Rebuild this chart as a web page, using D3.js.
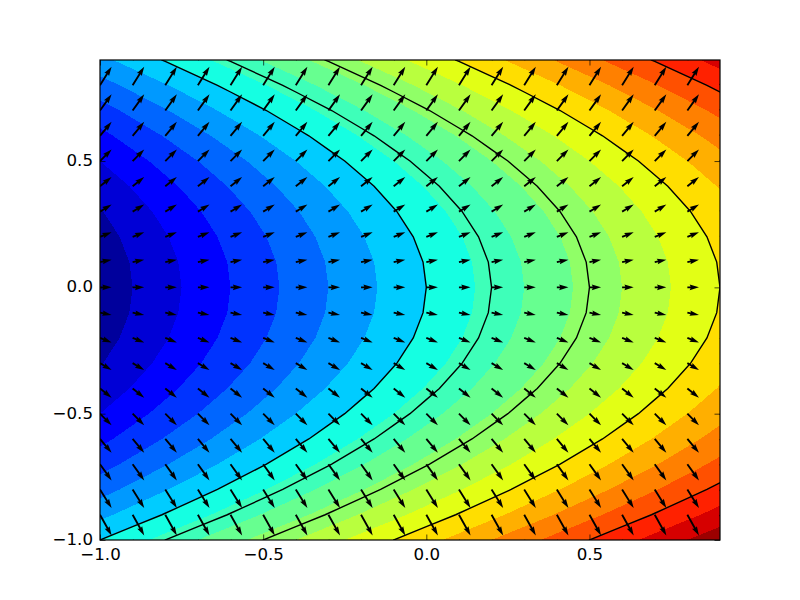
<!DOCTYPE html>
<html><head><meta charset="utf-8">
<script src="https://cdn.jsdelivr.net/npm/d3@7"></script>
<style>html,body{margin:0;background:#fff}svg{display:block}text{font-family:"DejaVu Sans",sans-serif}</style>
</head><body><svg id="c" width="800" height="600"></svg>
<script>
const xValues=[-1,-0.9,-0.8,-0.7,-0.6,-0.5,-0.4,-0.3,-0.2,-0.1,0,0.1,0.2,0.3,0.4,0.5,0.6,0.7,0.8,0.9];
const yValues=[-1,-0.9,-0.8,-0.7,-0.6,-0.5,-0.4,-0.3,-0.2,-0.1,0,0.1,0.2,0.3,0.4,0.5,0.6,0.7,0.8,0.9];
const xTicks=[-1,-0.5,0,0.5];
const yTicks=[-1,-0.5,0,0.5];
// field, bottom row first
const zRows=[
[0,.1,.2,.3,.4,.5,.6,.7,.8,.9,1,1.1,1.2,1.3,1.4,1.5,1.6,1.7,1.8,1.9],
[-.19,-.09,.01,.11,.21,.31,.41,.51,.61,.71,.81,.91,1.01,1.11,1.21,1.31,1.41,1.51,1.61,1.71],
[-.36,-.26,-.16,-.06,.04,.14,.24,.34,.44,.54,.64,.74,.84,.94,1.04,1.14,1.24,1.34,1.44,1.54],
[-.51,-.41,-.31,-.21,-.11,-.01,.09,.19,.29,.39,.49,.59,.69,.79,.89,.99,1.09,1.19,1.29,1.39],
[-.64,-.54,-.44,-.34,-.24,-.14,-.04,.06,.16,.26,.36,.46,.56,.66,.76,.86,.96,1.06,1.16,1.26],
[-.75,-.65,-.55,-.45,-.35,-.25,-.15,-.05,.05,.15,.25,.35,.45,.55,.65,.75,.85,.95,1.05,1.15],
[-.84,-.74,-.64,-.54,-.44,-.34,-.24,-.14,-.04,.06,.16,.26,.36,.46,.56,.66,.76,.86,.96,1.06],
[-.91,-.81,-.71,-.61,-.51,-.41,-.31,-.21,-.11,-.01,.09,.19,.29,.39,.49,.59,.69,.79,.89,.99],
[-.96,-.86,-.76,-.66,-.56,-.46,-.36,-.26,-.16,-.06,.04,.14,.24,.34,.44,.54,.64,.74,.84,.94],
[-.99,-.89,-.79,-.69,-.59,-.49,-.39,-.29,-.19,-.09,.01,.11,.21,.31,.41,.51,.61,.71,.81,.91],
[-1,-.9,-.8,-.7,-.6,-.5,-.4,-.3,-.2,-.1,0,.1,.2,.3,.4,.5,.6,.7,.8,.9],
[-.99,-.89,-.79,-.69,-.59,-.49,-.39,-.29,-.19,-.09,.01,.11,.21,.31,.41,.51,.61,.71,.81,.91],
[-.96,-.86,-.76,-.66,-.56,-.46,-.36,-.26,-.16,-.06,.04,.14,.24,.34,.44,.54,.64,.74,.84,.94],
[-.91,-.81,-.71,-.61,-.51,-.41,-.31,-.21,-.11,-.01,.09,.19,.29,.39,.49,.59,.69,.79,.89,.99],
[-.84,-.74,-.64,-.54,-.44,-.34,-.24,-.14,-.04,.06,.16,.26,.36,.46,.56,.66,.76,.86,.96,1.06],
[-.75,-.65,-.55,-.45,-.35,-.25,-.15,-.05,.05,.15,.25,.35,.45,.55,.65,.75,.85,.95,1.05,1.15],
[-.64,-.54,-.44,-.34,-.24,-.14,-.04,.06,.16,.26,.36,.46,.56,.66,.76,.86,.96,1.06,1.16,1.26],
[-.51,-.41,-.31,-.21,-.11,-.01,.09,.19,.29,.39,.49,.59,.69,.79,.89,.99,1.09,1.19,1.29,1.39],
[-.36,-.26,-.16,-.06,.04,.14,.24,.34,.44,.54,.64,.74,.84,.94,1.04,1.14,1.24,1.34,1.44,1.54],
[-.19,-.09,.01,.11,.21,.31,.41,.51,.61,.71,.81,.91,1.01,1.11,1.21,1.31,1.41,1.51,1.61,1.71]
];
const fillLevels=[-1.05,-.9,-.75,-.6,-.45,-.3,-.15,0,.15,.3,.45,.6,.75,.9,1.05,1.2,1.35,1.5,1.65,1.8];
const lineLevels=[0,.2,.5,.9,1.5];
// arrow components: u per column, v per row
const uByColumn=[1,1,1,1,1,1,1,1,1,1,1,1,1,1,1,1,1,1,1,1];
const vByRow=[-2,-1.8,-1.6,-1.4,-1.2,-1,-.8,-.6,-.4,-.2,0,.2,.4,.6,.8,1,1.2,1.4,1.6,1.8];

const svg=d3.select("#c");
const L=100,R=720,T=60,B=540;
const x=d3.scaleLinear().domain([-1,.9]).range([L,R]);
const y=d3.scaleLinear().domain([-1,.9]).range([B,T]);
const nx=xValues.length,ny=yValues.length;
// d3.contours puts grid node i at i+0.5
const gx=d3.scaleLinear().domain([.5,nx-.5]).range([x(xValues[0]),x(xValues[nx-1])]);
const gy=d3.scaleLinear().domain([.5,ny-.5]).range([y(yValues[0]),y(yValues[ny-1])]);
const path=d3.geoPath(d3.geoTransform({point(a,b){this.stream.point(gx(a),gy(b));}}));
const flat=zRows.flat();
const contours=d3.contours().size([nx,ny]).smooth(true);

const chan=(d,r)=>d3.scaleLinear().domain(d).range(r).clamp(true);
const jr=chan([0,.35,.66,.89,1],[0,0,1,1,.5]);
const jg=chan([0,.125,.375,.64,.91,1],[0,0,1,1,0,0]);
const jb=chan([0,.11,.34,.65,1],[.5,1,1,0,0]);
const jet=t=>`rgb(${Math.round(jr(t)*255)},${Math.round(jg(t)*255)},${Math.round(jb(t)*255)})`;
// each band takes the colour at its midpoint between the outermost levels
const band=d3.scaleLinear().domain([-.5,fillLevels.length-.5]).range([0,1]);

svg.append("defs").append("clipPath").attr("id","plot").append("rect")
  .attr("x",L).attr("y",T).attr("width",R-L).attr("height",B-T);
const plot=svg.append("g").attr("clip-path","url(#plot)");

plot.append("g").attr("shape-rendering","crispEdges").selectAll("path")
  .data(fillLevels.map((l,i)=>({g:contours.contour(flat,l),i})))
  .join("path").attr("d",d=>path(d.g)).attr("fill",d=>jet(band(d.i)));

plot.append("g").selectAll("path")
  .data(lineLevels.map(l=>contours.contour(flat,l)))
  .join("path").attr("d",path).attr("fill","none").attr("stroke","#000").attr("stroke-width",1.39);

// quiver
const lenScale=d3.scaleLinear().domain([0,1]).range([0,11.6]);
const w=1.86;
const arrows=[];
yValues.forEach((yy,j)=>xValues.forEach((xx,i)=>arrows.push({xx,yy,u:uByColumn[i],v:vByRow[j]})));
plot.append("g").selectAll("path").data(arrows).join("path")
  .attr("transform",d=>`translate(${x(d.xx)},${y(d.yy)}) rotate(${-Math.atan2(d.v,d.u)*180/Math.PI})`)
  .attr("d",d=>{
    const n=lenScale(Math.hypot(d.u,d.v));
    const p=[[0,w/2],[n-4.5*w,w/2],[n-5*w,1.5*w],[n,0],[n-5*w,-1.5*w],[n-4.5*w,-w/2],[0,-w/2]];
    return d3.line()(p)+"Z";
  }).attr("fill","#000");

svg.append("rect").attr("x",L).attr("y",T).attr("width",R-L).attr("height",B-T)
  .attr("fill","none").attr("stroke","#000").attr("stroke-width",1.2);

const fmt=d3.format(".1f");
const styleAxis=g=>{g.select(".domain").remove();g.selectAll("line").attr("stroke","#000").attr("stroke-width",.7);
  g.selectAll("text").attr("fill","#000").attr("font-size",16.67).attr("font-family",'"DejaVu Sans"');};
svg.append("g").attr("transform",`translate(0,${B})`).call(d3.axisBottom(x).tickValues(xTicks).tickFormat(fmt).tickSize(-5.5).tickPadding(8)).call(styleAxis);
svg.append("g").attr("transform",`translate(0,${T})`).call(d3.axisTop(x).tickValues(xTicks).tickFormat("").tickSize(-5.5)).call(styleAxis);
svg.append("g").attr("transform",`translate(${L},0)`).call(d3.axisLeft(y).tickValues(yTicks).tickFormat(fmt).tickSize(-5.5).tickPadding(7)).call(styleAxis)
  .selectAll("text").attr("dy",".27em");
svg.append("g").attr("transform",`translate(${R},0)`).call(d3.axisRight(y).tickValues(yTicks).tickFormat("").tickSize(-5.5)).call(styleAxis);
</script></body></html>
